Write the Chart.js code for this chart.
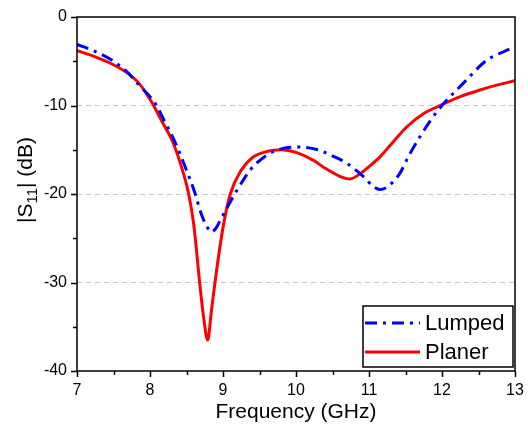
<!DOCTYPE html>
<html>
<head>
<meta charset="utf-8">
<script src="https://cdn.jsdelivr.net/npm/chart.js@4/dist/chart.umd.min.js"></script>
<style>
  html, body { margin: 0; padding: 0; background: #fff; }
  #wrap { width: 528px; height: 425px; }
</style>
</head>
<body>
<div id="wrap"><canvas id="s11Chart"></canvas></div>
<script>
// Lumped: frequency (GHz) / |S11| (dB)
const lumpedFreq = [7.0, 7.25, 7.5, 7.7, 7.85, 8.0, 8.09, 8.2, 8.33, 8.48, 8.62, 8.7, 8.78, 8.84, 8.9, 8.98,
  9.16, 9.28, 9.37, 9.6, 9.8, 10.05, 10.3, 10.47, 10.69, 10.92, 11.05, 11.15, 11.25, 11.42, 11.55, 11.7,
  11.85, 12.0, 12.29, 12.61, 12.85, 13.0];
const lumpedS11 = [-3.1, -3.9, -5.0, -6.3, -7.7, -9.0, -10.0, -11.8, -13.9, -16.9, -20.0, -22.2, -23.7, -24.3, -23.9, -22.7,
  -20.0, -18.4, -17.3, -15.6, -14.9, -14.7, -15.0, -15.6, -16.5, -18.0, -19.1, -19.5, -19.2, -17.7, -15.6, -13.5,
  -11.6, -10.0, -7.5, -4.9, -3.9, -3.35];

// Planer
const planerFreq = [7.0, 7.25, 7.5, 7.7, 7.85, 8.0, 8.05, 8.15, 8.3, 8.43, 8.53, 8.6, 8.68, 8.74, 8.79, 8.84,
  8.89, 9.0, 9.1, 9.25, 9.4, 9.6, 9.8, 10.0, 10.24, 10.4, 10.6, 10.74, 10.88, 11.0, 11.15, 11.3, 11.52,
  11.75, 12.0, 12.25, 12.52, 12.75, 13.0];
const planerS11 = [-3.8, -4.5, -5.4, -6.4, -7.5, -9.3, -10.0, -11.6, -13.9, -16.9, -20.0, -23.5, -30.0, -34.3, -36.5, -33.3,
  -30.0, -23.8, -20.0, -17.3, -15.9, -15.2, -15.0, -15.3, -16.2, -17.1, -18.0, -18.3, -17.7, -16.9, -15.8, -14.4, -12.4,
  -10.9, -9.9, -9.0, -8.25, -7.7, -7.2];

const xTickLabels = [7, 8, 9, 10, 11, 12, 13];
const yTickLabels = [-40, -30, -20, -10, 0];

const FONT = "'Liberation Sans', Arial, sans-serif";

const toPoints = (xs, ys) => xs.map((x, i) => ({ x: x, y: ys[i] }));

// frame, outward ticks, y title and legend box
const decorations = {
  id: 'decorations',
  afterDraw(chart) {
    const { ctx, chartArea: a, scales: { x, y } } = chart;
    ctx.save();
    ctx.strokeStyle = '#000';
    ctx.lineWidth = 1.5;
    ctx.strokeRect(a.left, a.top, a.right - a.left, a.bottom - a.top);

    ctx.beginPath();
    for (let v = x.min; v <= x.max + 1e-9; v += 0.5) {
      const px = Math.round(x.getPixelForValue(v)) + 0.5;
      const len = Math.abs(v - Math.round(v)) < 1e-6 ? 6 : 4;
      ctx.moveTo(px, a.bottom);
      ctx.lineTo(px, a.bottom + len);
    }
    for (let v = y.min; v <= y.max + 1e-9; v += 5) {
      const py = Math.round(y.getPixelForValue(v)) + 0.5;
      const len = v % 10 === 0 ? 6 : 4;
      ctx.moveTo(a.left, py);
      ctx.lineTo(a.left - len, py);
    }
    ctx.stroke();

    // y axis title with subscript
    ctx.save();
    ctx.translate(32, 180);
    ctx.rotate(-Math.PI / 2);
    ctx.fillStyle = '#000';
    ctx.textBaseline = 'alphabetic';
    const parts = [['|S', 21, 0], ['11', 15, 5], ['| (dB)', 21, 0]];
    let total = 0;
    parts.forEach(p => { ctx.font = p[1] + 'px ' + FONT; total += ctx.measureText(p[0]).width; });
    let cx = -total / 2;
    parts.forEach(p => {
      ctx.font = p[1] + 'px ' + FONT;
      ctx.fillText(p[0], cx, p[2]);
      cx += ctx.measureText(p[0]).width;
    });
    ctx.restore();

    // legend
    const box = { left: 363, top: 306, right: 513, bottom: 367 };
    ctx.fillStyle = '#fff';
    ctx.fillRect(box.left, box.top, box.right - box.left, box.bottom - box.top);
    ctx.lineWidth = 1.5;
    ctx.strokeStyle = '#000';
    ctx.strokeRect(box.left, box.top, box.right - box.left, box.bottom - box.top);
    const rows = [323, 352];
    chart.data.datasets.forEach((ds, i) => {
      ctx.beginPath();
      ctx.strokeStyle = ds.borderColor;
      ctx.lineWidth = ds.borderWidth;
      ctx.setLineDash(ds.borderDash || []);
      ctx.moveTo(365, rows[i]);
      ctx.lineTo(420, rows[i]);
      ctx.stroke();
      ctx.setLineDash([]);
      ctx.fillStyle = '#000';
      ctx.font = '22px ' + FONT;
      ctx.textBaseline = 'middle';
      ctx.fillText(ds.label, 425, rows[i] + 1);
    });
    ctx.restore();
  }
};

new Chart(document.getElementById('s11Chart'), {
  type: 'line',
  data: {
    datasets: [
      {
        label: 'Lumped',
        data: toPoints(lumpedFreq, lumpedS11),
        borderColor: '#0000ff',
        borderWidth: 3,
        borderDash: [12, 6, 3, 6],
        pointRadius: 0,
        cubicInterpolationMode: 'monotone',
        fill: false
      },
      {
        label: 'Planer',
        data: toPoints(planerFreq, planerS11),
        borderColor: '#ff0000',
        borderWidth: 3,
        pointRadius: 0,
        cubicInterpolationMode: 'monotone',
        fill: false
      }
    ]
  },
  options: {
    responsive: true,
    maintainAspectRatio: false,
    animation: false,
    layout: { padding: { top: 17, right: 13, left: 0, bottom: 0 } },
    plugins: {
      legend: { display: false },
      tooltip: { enabled: false }
    },
    scales: {
      x: {
        type: 'linear',
        min: 7,
        max: 13,
        afterFit: s => {
          s.height = 54;
          s.paddingLeft = 0;
          s.paddingRight = 0;
        },
        border: { display: false },
        grid: { display: false, drawTicks: false },
        ticks: {
          stepSize: 1,
          padding: 10,
          color: '#000',
          font: { family: FONT, size: 16 },
          callback: v => xTickLabels.includes(v) ? v : ''
        },
        title: {
          display: true,
          text: 'Frequency (GHz)',
          color: '#000',
          font: { family: FONT, size: 21 },
          padding: { top: 0, bottom: 0 }
        }
      },
      y: {
        min: -40,
        max: 0,
        afterFit: s => {
          s.width = 77;
          s.paddingTop = 0;
          s.paddingBottom = 0;
        },
        border: { display: false, dash: [5, 4] },
        grid: {
          drawTicks: false,
          color: c => [-10, -20, -30].includes(c.tick.value) ? '#c8c8c8' : 'rgba(0,0,0,0)',
          lineWidth: 1
        },
        ticks: {
          stepSize: 10,
          padding: 10,
          color: '#000',
          font: { family: FONT, size: 16 },
          callback: v => yTickLabels.includes(v) ? v : ''
        }
      }
    }
  },
  plugins: [decorations]
});
</script>
</body>
</html>
